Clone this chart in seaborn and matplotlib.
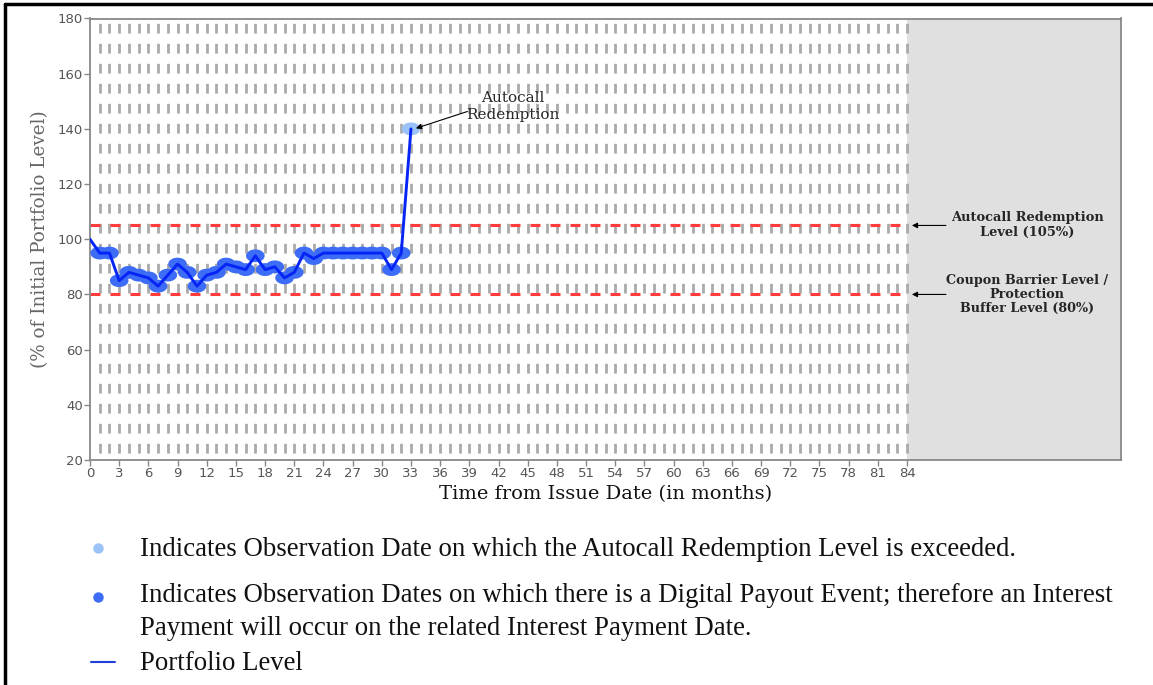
import numpy as np
import matplotlib.pyplot as plt
import matplotlib as mpl
from matplotlib.lines import Line2D
import seaborn as sns

###################### DATA ###########################
months = np.arange(0, 34)
levels = [100, 95, 95, 85, 88, 87, 86, 83, 87, 91, 88, 83, 87, 88, 91, 90, 89,
          94, 89, 90, 86, 88, 95, 93, 95, 95, 95, 95, 95, 95, 95, 89, 95, 140]
autocall_level = 105
barrier_level = 80
term_months = 84
x_ticks = np.arange(0, 85, 3)
y_ticks = np.arange(20, 181, 20)

legend_texts = [
    "Indicates Observation Date on which the Autocall Redemption Level is exceeded.",
    "Indicates Observation Dates on which there is a Digital Payout Event; therefore an Interest\n"
    "Payment will occur on the related Interest Payment Date.",
    "Portfolio Level",
]

levels = np.array(levels, dtype=float)
is_call = levels >= autocall_level
is_digital = (levels >= barrier_level) & ~is_call & (months > 0)

###################### STYLE ###########################
sns.set_theme(style="ticks")
plt.rcParams['lines.scale_dashes'] = False
plt.rcParams['font.family'] = ['DejaVu Sans']

W, H = 1153, 685
fig = plt.figure(figsize=(W / 100, H / 100), dpi=100)
fig.patch.set_facecolor('white')
ax = fig.add_axes([90 / W, 1 - 460 / H, (1121 - 90) / W, (460 - 18.5) / H])
ax.set_facecolor('white')

# ellipse marker
t = np.linspace(0, 2 * np.pi, 40)
ellipse = np.c_[1.45 * np.cos(t), np.sin(t)]

# shaded area past the term
ax.axvspan(term_months, 106, color='#e0e0e0', zorder=0.2, lw=0)

# monthly dashed guides
ax.vlines(np.arange(1, term_months + 1), 20, 180, colors='#aaaaaa',
          linewidth=2.0, linestyles=[(9.4, (7.0, 7.4))], zorder=0.5)

# barrier lines
ax.hlines([autocall_level, barrier_level], 0, term_months, colors='#ff3b3b',
          linewidth=2.2, linestyles=[(0, (7.2, 7.2))], zorder=1)

sns.scatterplot(x=months[is_digital], y=levels[is_digital], marker=ellipse,
                s=180, color='#3d6cf6', edgecolor='none', linewidth=0,
                ax=ax, zorder=3)
sns.scatterplot(x=months[is_call], y=levels[is_call], marker=ellipse,
                s=180, color='#9cc3f7', edgecolor='none', linewidth=0,
                ax=ax, zorder=3)
sns.lineplot(x=months, y=levels, color='#0524f5', linewidth=2.1, ax=ax,
             zorder=4)

ax.set_xlim(0, 106)
ax.set_ylim(20, 180)
ax.set_xticks(x_ticks)
ax.set_yticks(y_ticks)
ax.tick_params(axis='both', labelsize=9.5, labelcolor='#555555',
               color='#888888', length=4, width=1, pad=1)
for s in ax.spines.values():
    s.set_color('#888888')
    s.set_linewidth(1.3)
    s.set_visible(True)

ax.set_xlabel("Time from Issue Date (in months)", family='DejaVu Serif',
              fontsize=14, color='#111111', labelpad=4)
ax.set_ylabel("(% of Initial Portfolio Level)", family='DejaVu Serif',
              fontsize=13.2, color='#666666', labelpad=6)

# annotations
arrow = dict(arrowstyle='-|>', color='black', lw=0.8,
             mutation_scale=8, shrinkA=0, shrinkB=0)
ax.annotate('', xy=(33.5, 140.2), xytext=(38.8, 146.3), arrowprops=arrow)
ax.text(43.5, 148.1, "Autocall\nRedemption", family='DejaVu Serif',
        fontsize=11, ha='center', va='center', linespacing=1.2)
ax.annotate('', xy=(84.5, autocall_level), xytext=(88.0, autocall_level),
            arrowprops=arrow)
ax.annotate('', xy=(84.5, barrier_level), xytext=(88.0, barrier_level),
            arrowprops=arrow)
ax.text(96.4, autocall_level + 0.2, "Autocall Redemption\nLevel (105%)",
        family='DejaVu Serif', fontweight='bold', fontsize=9.4,
        ha='center', va='center', linespacing=1.15)
ax.text(96.3, barrier_level, "Coupon Barrier Level /\nProtection\nBuffer Level (80%)",
        family='DejaVu Serif', fontweight='bold', fontsize=9.2,
        ha='center', va='center', linespacing=1.1)

# page frame
fig.add_artist(Line2D([5 / W, 1], [1 - 4 / H, 1 - 4 / H], color='black', lw=2.5))
fig.add_artist(Line2D([5 / W, 5 / W], [0, 1 - 4 / H], color='black', lw=2.5))

# legend below chart
fig.add_artist(Line2D([98 / W], [1 - 548 / H], marker='o', markersize=7.5,
                      color='#9cc3f7', markeredgewidth=0))
fig.add_artist(Line2D([98 / W], [1 - 597 / H], marker='o', markersize=7.5,
                      color='#3d6cf6', markeredgewidth=0))
fig.add_artist(Line2D([91 / W, 115 / W], [1 - 662 / H, 1 - 662 / H],
                      color='#1f3fd8', lw=1.5))
leg_y = [549, 612, 663]
for txt, yy in zip(legend_texts, leg_y):
    fig.text(140 / W, 1 - yy / H, txt, family='Liberation Serif',
             fontsize=19.3, va='center', ha='left', color='#111111',
             linespacing=1.42)

fig.savefig('out.png', dpi=100)
